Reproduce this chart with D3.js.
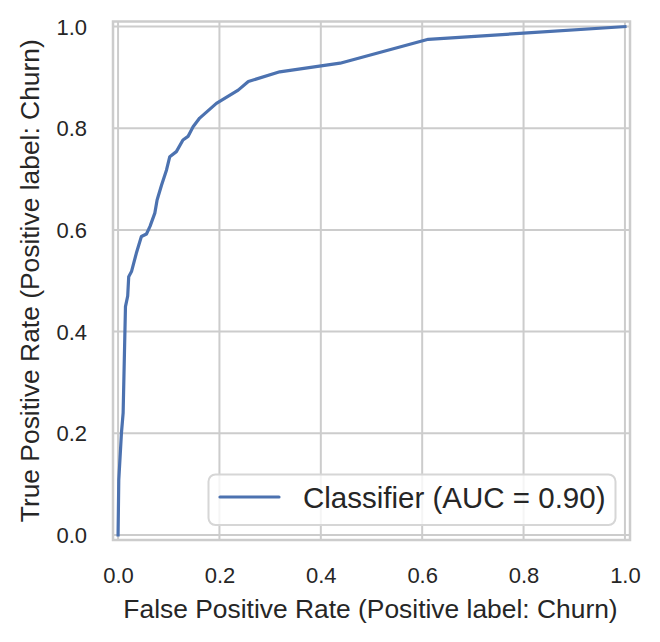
<!DOCTYPE html>
<html>
<head>
<meta charset="utf-8">
<script src="https://cdn.jsdelivr.net/npm/d3@7/dist/d3.min.js"></script>
<style>
  html, body { margin: 0; padding: 0; background: #ffffff; }
  svg { display: block; }
  text { font-family: "Liberation Sans", Arial, sans-serif; fill: #262626; }
</style>
</head>
<body>
<svg id="chart" width="660" height="642"></svg>
<script>
// ROC curve points
const fpr = [0, 0.0014, 0.0067, 0.010, 0.0146, 0.019, 0.021, 0.0265, 0.036, 0.046, 0.056, 0.063, 0.0725, 0.077, 0.0857, 0.0956, 0.102, 0.115, 0.128, 0.138, 0.148, 0.161, 0.194, 0.237, 0.257, 0.319, 0.438, 0.612, 0.80, 1.0];
const tpr = [0, 0.108, 0.201, 0.24, 0.449, 0.47, 0.508, 0.518, 0.554, 0.587, 0.592, 0.607, 0.633, 0.659, 0.688, 0.718, 0.744, 0.754, 0.777, 0.784, 0.803, 0.820, 0.849, 0.875, 0.892, 0.911, 0.928, 0.975, 0.987, 1.0];
const xTicks = [0.0, 0.2, 0.4, 0.6, 0.8, 1.0];
const yTicks = [0.0, 0.2, 0.4, 0.6, 0.8, 1.0];
const xLabel = "False Positive Rate (Positive label: Churn)";
const yLabel = "True Positive Rate (Positive label: Churn)";
const legendLabel = "Classifier (AUC = 0.90)";

const svg = d3.select("#chart");
const pLeft = 113, pRight = 630, pTop = 21.5, pBottom = 540;
const x = d3.scaleLinear().domain([-0.01, 1.01]).range([pLeft, pRight]);
const y = d3.scaleLinear().domain([-0.01, 1.01]).range([pBottom, pTop]);
const grid = "#cccccc";

// gridlines
svg.append("g").selectAll("line").data(xTicks).join("line")
  .attr("x1", d => x(d)).attr("x2", d => x(d))
  .attr("y1", pTop).attr("y2", pBottom)
  .attr("stroke", grid).attr("stroke-width", 2);
svg.append("g").selectAll("line").data(yTicks).join("line")
  .attr("y1", d => y(d)).attr("y2", d => y(d))
  .attr("x1", pLeft).attr("x2", pRight)
  .attr("stroke", grid).attr("stroke-width", 2);

// axes (tick labels only)
const fmt = d3.format(".1f");
const gx = svg.append("g").attr("transform", `translate(0,${pBottom})`)
  .call(d3.axisBottom(x).tickValues(xTicks).tickFormat(fmt).tickSize(0).tickPadding(27));
const gy = svg.append("g").attr("transform", `translate(${pLeft},0)`)
  .call(d3.axisLeft(y).tickValues(yTicks).tickFormat(fmt).tickSize(0).tickPadding(26));
[gx, gy].forEach(g => {
  g.select(".domain").remove();
  g.selectAll("text").style("font-family", '"Liberation Sans", Arial, sans-serif')
    .style("font-size", "22px").attr("fill", "#262626");
});
gx.selectAll("text").attr("dy", "0.71em");
gy.selectAll("text").attr("dy", "0.35em");

// curve
const pts = fpr.map((f, i) => [f, tpr[i]]);
const line = d3.line().x(d => x(d[0])).y(d => y(d[1]));
svg.append("path").datum(pts)
  .attr("d", line)
  .attr("fill", "none").attr("stroke", "#4c72b0")
  .attr("stroke-width", 3.2).attr("stroke-linejoin", "round").attr("stroke-linecap", "square");

// spines
svg.append("rect")
  .attr("x", pLeft).attr("y", pTop)
  .attr("width", pRight - pLeft).attr("height", pBottom - pTop)
  .attr("fill", "none").attr("stroke", grid).attr("stroke-width", 2.5);

// axis labels
svg.append("text")
  .attr("x", 370.5).attr("y", 618)
  .attr("text-anchor", "middle").style("font-size", "26.4px")
  .text(xLabel);
svg.append("text")
  .attr("transform", `translate(38.5,${(pTop + pBottom) / 2}) rotate(-90)`)
  .attr("text-anchor", "middle").style("font-size", "26.4px")
  .text(yLabel);

// legend
const lg = svg.append("g");
lg.append("rect")
  .attr("x", 208.5).attr("y", 474.5).attr("width", 407).attr("height", 50.5)
  .attr("rx", 7).attr("ry", 7)
  .attr("fill", "#ffffff").attr("fill-opacity", 0.8)
  .attr("stroke", "#d6d6d6").attr("stroke-width", 2);
lg.append("line")
  .attr("x1", 220).attr("x2", 279).attr("y1", 497).attr("y2", 497)
  .attr("stroke", "#4c72b0").attr("stroke-width", 3.2).attr("stroke-linecap", "round");
lg.append("text")
  .attr("x", 303).attr("y", 507.7)
  .style("font-size", "29.5px")
  .text(legendLabel);
</script>
</body>
</html>
